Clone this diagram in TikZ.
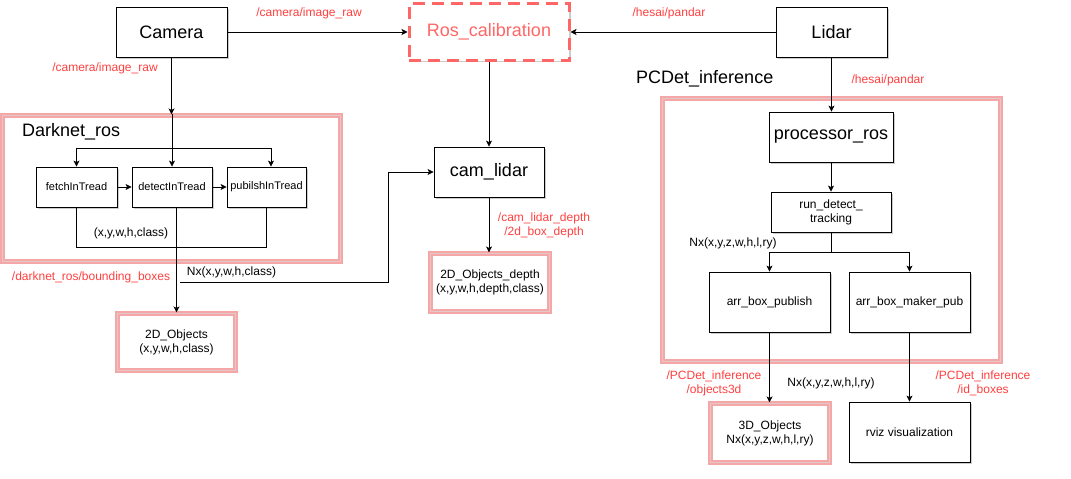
\documentclass[tikz,border=0pt]{standalone}
\usepackage{fontspec}
\setmainfont{Liberation Sans}
\usetikzlibrary{arrows.meta,shadows}
\definecolor{redlbl}{RGB}{255,64,64}
\definecolor{calib}{RGB}{255,102,102}
\definecolor{pinkc}{RGB}{245,166,166}
\definecolor{pinkin}{RGB}{228,200,200}
\begin{document}
\begin{tikzpicture}[x=1pt,y=-1pt,
 shd/.style={drop shadow={shadow xshift=1.5pt,shadow yshift=-1.5pt,opacity=0.2,fill=black}},
 box/.style={draw, line width=0.8pt, fill=white, shd, align=center, inner sep=0pt},
 big/.style={font=\fontsize{18}{21}\selectfont},
 small/.style={font=\fontsize{12}{14}\selectfont},
 tiny/.style={font=\fontsize{11}{13}\selectfont},
 pinkbox/.style={draw=pinkc, line width=2.1pt, double=pinkin, double distance=0.8pt, fill=white, shd, align=center, inner sep=0pt},
 lbl/.style={text=redlbl, font=\fontsize{12}{14}\selectfont, align=center, inner sep=0pt},
 blbl/.style={font=\fontsize{12}{14}\selectfont, align=center, inner sep=0pt},
 arr/.style={-{Stealth[length=6pt,width=6pt,inset=1.5pt]}, line width=0.8pt},
 ln/.style={line width=0.8pt}]
\useasboundingbox[fill=white] (0,0) rectangle (1071,479);

% group boxes
\node[pinkbox, minimum width=338, minimum height=146] (darknet) at (171.5,188.5) {};
\node[pinkbox, minimum width=338, minimum height=263] (pcdet) at (831.5,230) {};
\node[big, anchor=west, inner sep=0pt] (darknetlbl) at (22,132) {Darknet\_ros};
\node[big, anchor=west, inner sep=0pt] (pcdetlbl) at (636,79) {PCDet\_inference};

% top row
\node[box, big, minimum width=111, minimum height=50] (camera) at (171.5,32) {Camera};
\node[box, big, minimum width=111, minimum height=50] (lidar) at (831.5,32) {Lidar};
\node[draw=calib, dash pattern=on 12pt off 7pt, line width=3pt, fill=white, shd, text=calib, big, minimum width=160, minimum height=57, inner sep=0pt] (calib) at (489,32) {Ros\_calibration};

% darknet inner
\node[box, tiny, minimum width=81, minimum height=40] (fetch) at (76.5,187) {fetchInTread};
\node[box, tiny, minimum width=80, minimum height=40] (detect) at (172,187) {detectInTread};
\node[box, tiny, minimum width=79, minimum height=40] (pubilsh) at (266.5,187) {pubilshInTread};

% outputs
\node[pinkbox, small, minimum width=118, minimum height=57] (obj2d) at (176.5,342) {2D\_Objects\\(x,y,w,h,class)};
\node[box, big, minimum width=110, minimum height=50] (camlidar) at (489,172) {cam\_lidar};
\node[pinkbox, small, minimum width=119, minimum height=58] (obj2dd) at (490,282.5) {2D\_Objects\_depth\\(x,y,w,h,depth,class)};

% pcdet inner
\node[box, big, minimum width=124, minimum height=50] (processor) at (831,137) {processor\_ros};
\node[box, small, minimum width=120, minimum height=40] (run) at (831,212) {run\_detect\_\\tracking};
\node[box, small, minimum width=121, minimum height=60] (arrpub) at (769.5,302) {arr\_box\_publish};
\node[box, small, minimum width=121, minimum height=60] (arrmaker) at (909.5,302) {arr\_box\_maker\_pub};
\node[pinkbox, small, minimum width=119, minimum height=59] (obj3d) at (770,433) {3D\_Objects\\Nx(x,y,z,w,h,l,ry)};
\node[box, small, minimum width=121, minimum height=60] (rviz) at (909.5,432) {rviz visualization};

% connectors
\draw[arr] (camera) -- (calib);
\draw[arr] (lidar) -- (calib);
\draw[arr] (camera.south) -- (camera.south |- darknet.north);
\draw[arr] (detect.north |- darknet.north) -- (detect.north);
\coordinate (split) at (172,148);
\draw[arr] (split) -| (fetch.north);
\draw[arr] (split) -| ([xshift=4.5pt]pubilsh.north);
\draw[arr] (fetch) -- (detect);
\draw[arr] (detect) -- (pubilsh);
\draw[ln] (fetch.south) -- ++(0,40) -| (pubilsh.south);
\draw[arr] (detect.south -| obj2d.north) -- (obj2d.north);
\coordinate (nxstart) at (180,282);
\draw[arr] (nxstart) -- (388,282) |- (camlidar.west);
\draw[arr] (calib) -- (camlidar);
\draw[arr] (camlidar) -- (obj2dd.north -| camlidar.south);
\draw[arr] (lidar.south) -- (lidar.south |- processor.north);
\draw[arr] (processor) -- (run);
\coordinate (split2) at (831,252);
\draw[ln] (run.south) -- (split2);
\draw[arr] (split2) -| (arrpub.north);
\draw[arr] (split2) -| (arrmaker.north);
\draw[arr] (arrpub.south) -- (arrpub.south |- obj3d.north);
\draw[arr] (arrmaker) -- (rviz);

% labels
\node[lbl] (l1) at (309,13) {/camera/image\_raw};
\node[lbl] (l2) at (669,13) {/hesai/pandar};
\node[lbl] (l3) at (105,68) {/camera/image\_raw};
\node[blbl] (l4) at (131,233) {(x,y,w,h,class)};
\node[lbl] (l5) at (91,277) {/darknet\_ros/bounding\_boxes};
\node[blbl] (l6) at (231.5,272) {Nx(x,y,w,h,class)};
\node[lbl] (l7) at (544,225) {/cam\_lidar\_depth\\/2d\_box\_depth};
\node[lbl] (l8) at (888,80) {/hesai/pandar};
\node[blbl] (l9) at (733,243) {Nx(x,y,z,w,h,l,ry)};
\node[lbl] (l10) at (714,383) {/PCDet\_inference\\/objects3d};
\node[lbl] (l11) at (983,383) {/PCDet\_inference\\/id\_boxes};
\node[blbl] (l12) at (831,383) {Nx(x,y,z,w,h,l,ry)};
\end{tikzpicture}
\end{document}
